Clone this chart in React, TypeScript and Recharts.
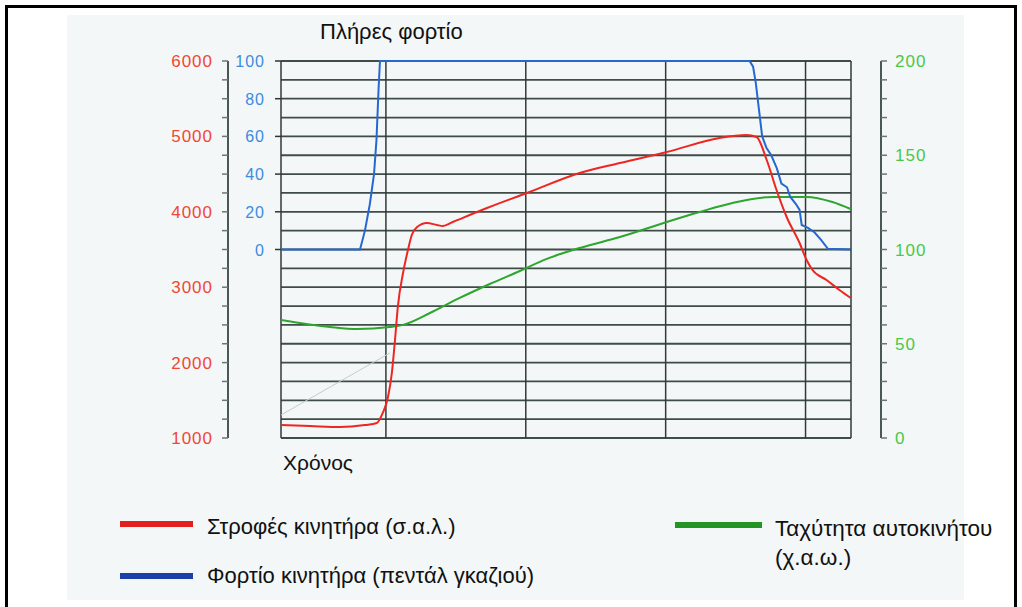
import React from "react";
import {
  ComposedChart,
  Line,
  XAxis,
  YAxis,
  CartesianGrid,
} from "recharts";

// time axis (arbitrary units), vertical grid positions
const gridTime = [0, 3, 7, 11, 15, 16.3];

const loadTicks = [0, 20, 40, 60, 80, 100];
const rpmTicks = [1000, 1250, 1500, 1750, 2000, 2250, 2500, 2750, 3000, 3250, 3500, 3750, 4000, 4250, 4500, 4750, 5000, 5250, 5500, 5750, 6000];
const speedTicks = [0, 10, 20, 30, 40, 50, 60, 70, 80, 90, 100, 110, 120, 130, 140, 150, 160, 170, 180, 190, 200];

// engine load (pedal) %
const loadTime = [0, 2.26, 2.4, 2.54, 2.66, 2.73, 2.79, 2.83, 13.4, 13.5, 13.58, 13.67, 13.76, 13.88, 14.02, 14.18, 14.31, 14.47, 14.56, 14.73, 14.83, 14.89, 15.07, 15.26, 15.45, 15.64, 16.29];
const loadValue = [0, 0, 10, 24, 40, 58, 85, 100, 100, 97, 88, 74, 60, 54, 50, 43, 35, 33, 28, 24, 21, 13, 11.5, 9, 5, 0.4, 0];

// engine rpm
const rpmTime = [0, 0.83, 1.69, 2.4, 2.74, 2.91, 3.06, 3.17, 3.26, 3.34, 3.49, 3.63, 3.74, 3.89, 4.17, 4.46, 4.63, 4.91, 5.89, 7.03, 8.54, 9.69, 11.03, 12.54, 13.31, 13.6, 13.89, 14.17, 14.46, 14.83, 15.03, 15.2, 15.6, 15.97, 16.29];
const rpmValue = [1172, 1159, 1146, 1172, 1199, 1332, 1544, 1862, 2300, 2737, 3188, 3493, 3692, 3798, 3851, 3825, 3812, 3865, 4050, 4249, 4515, 4647, 4793, 4979, 5019, 4992, 4687, 4289, 3931, 3586, 3361, 3228, 3095, 2963, 2857];

// vehicle speed km/h
const speedTime = [0, 1.4, 2.17, 3.11, 3.49, 4.26, 5.11, 5.97, 6.83, 7.6, 8.54, 9.69, 11.03, 11.97, 12.91, 14.06, 15.03, 15.77, 16.29];
const speedValue = [62.6, 58.9, 57.8, 58.9, 60, 66.3, 74.3, 81.7, 88.6, 95, 100.8, 106.6, 114.6, 119.9, 124.7, 127.9, 127.9, 125.2, 121.5];

// faint scan artefact line
const faintTime = [0, 3.11];
const faintValue = [1305, 2127];

const zip = (ts: number[], vs: number[]) => ts.map((t, i) => ({ t, v: vs[i] }));

const FONT = '"Liberation Sans", Arial, Helvetica, sans-serif';
const RED = "#ee2622";
const BLUE = "#2568d0";
const GREEN = "#2ea52e";
const AXIS = "#4b5753";

const RpmTick = (props: any) => {
  const { x, y, payload } = props;
  if (payload.value % 1000 !== 0) return <g />;
  return (
    <text x={x} y={y} dy={6} textAnchor="end" fill="#f04634" fontSize={17} letterSpacing={1} fontFamily={FONT}>
      {payload.value}
    </text>
  );
};

const LoadTick = (props: any) => {
  const { x, y, payload } = props;
  return (
    <text x={x} y={y} dy={6} textAnchor="end" fill="#3b8ce0" fontSize={16} letterSpacing={1} fontFamily={FONT}>
      {payload.value}
    </text>
  );
};

const SpeedTick = (props: any) => {
  const { x, y, payload } = props;
  if (payload.value % 50 !== 0) return <g />;
  return (
    <text x={x} y={y} dy={6} textAnchor="start" fill="#48c848" fontSize={17} letterSpacing={1} fontFamily={FONT}>
      {payload.value}
    </text>
  );
};

const text: React.CSSProperties = {
  position: "absolute",
  fontFamily: FONT,
  color: "#111",
  whiteSpace: "nowrap",
  lineHeight: 1,
};

export default function App() {
  return (
    <div style={{ position: "absolute", left: 0, top: 0, width: 1022, height: 607, overflow: "hidden", background: "#fff" }}>
      <div style={{ position: "absolute", left: 5, top: 5, width: 1006, height: 640, border: "3px solid #000" }} />
      <div style={{ position: "absolute", left: 67, top: 15, width: 897, height: 585, background: "#f4f7f7" }} />

      <div style={{ position: "absolute", left: 0, top: 0 }}>
        <ComposedChart width={1022} height={607} margin={{ top: 61, right: 81, bottom: 169, left: 150 }}>
          <CartesianGrid
            yAxisId="rpm"
            horizontal={true}
            vertical={false}
            horizontalValues={rpmTicks}
            stroke="#3f4c47"
            strokeWidth={1.8}
          />
          <CartesianGrid
            yAxisId="rpm"
            horizontal={false}
            vertical={true}
            verticalValues={gridTime}
            stroke="#2f3b37"
            strokeWidth={1.5}
          />
          <XAxis type="number" dataKey="t" domain={[0, 16.3]} ticks={gridTime} interval={0} hide allowDataOverflow />
          <YAxis
            yAxisId="load"
            orientation="left"
            width={53}
            domain={[-100, 100]}
            ticks={loadTicks}
            interval={0}
            axisLine={false}
            tickLine={{ stroke: "#333", strokeWidth: 1.5 }}
            tickSize={6}
            tickMargin={10}
            tick={LoadTick}
          />
          <YAxis
            yAxisId="rpm"
            orientation="left"
            width={78}
            domain={[1000, 6000]}
            ticks={rpmTicks}
            interval={0}
            axisLine={{ stroke: AXIS, strokeWidth: 2 }}
            tickLine={{ stroke: "#6a7672", strokeWidth: 1.5 }}
            tickSize={6}
            tickMargin={9}
            tick={RpmTick}
          />
          <YAxis yAxisId="pad" orientation="right" width={30} domain={[0, 1]} tick={false} axisLine={false} tickLine={false} />
          <YAxis
            yAxisId="speed"
            orientation="right"
            width={60}
            domain={[0, 200]}
            ticks={speedTicks}
            interval={0}
            axisLine={{ stroke: AXIS, strokeWidth: 2 }}
            tickLine={{ stroke: "#6a7672", strokeWidth: 1.5 }}
            tickSize={6}
            tickMargin={8}
            tick={SpeedTick}
          />

          <Line
            yAxisId="rpm"
            data={zip(faintTime, faintValue)}
            dataKey="v"
            type="linear"
            stroke="#c3cdca"
            strokeWidth={1}
            dot={false}
            isAnimationActive={false}
          />
          <Line
            yAxisId="speed"
            data={zip(speedTime, speedValue)}
            dataKey="v"
            type="monotone"
            stroke={GREEN}
            strokeWidth={2}
            dot={false}
            isAnimationActive={false}
          />
          <Line
            yAxisId="rpm"
            data={zip(rpmTime, rpmValue)}
            dataKey="v"
            type="monotone"
            stroke={RED}
            strokeWidth={2}
            dot={false}
            isAnimationActive={false}
          />
          <Line
            yAxisId="load"
            data={zip(loadTime, loadValue)}
            dataKey="v"
            type="linear"
            stroke={BLUE}
            strokeWidth={2}
            dot={false}
            isAnimationActive={false}
          />
        </ComposedChart>
      </div>

      <div style={{ ...text, left: 320, top: 21, fontSize: 22 }}>Πλήρες φορτίο</div>
      <div style={{ ...text, left: 283, top: 452, fontSize: 21 }}>Χρόνος</div>

      <div style={{ position: "absolute", left: 120, top: 521, width: 73, height: 6, background: "#e51e1e" }} />
      <div style={{ ...text, left: 207, top: 516, fontSize: 22 }}>Στροφές κινητήρα (σ.α.λ.)</div>

      <div style={{ position: "absolute", left: 120, top: 573, width: 73, height: 6, background: "#1c40a8" }} />
      <div style={{ ...text, left: 207, top: 565, fontSize: 22 }}>Φορτίο κινητήρα (πεντάλ γκαζιού)</div>

      <div style={{ position: "absolute", left: 675, top: 522, width: 87, height: 6, background: "#249424" }} />
      <div style={{ ...text, left: 775, top: 514, fontSize: 22.5, lineHeight: "29px", whiteSpace: "normal", width: 245 }}>
        Ταχύτητα αυτοκινήτου
        <br />
        (χ.α.ω.)
      </div>
    </div>
  );
}
